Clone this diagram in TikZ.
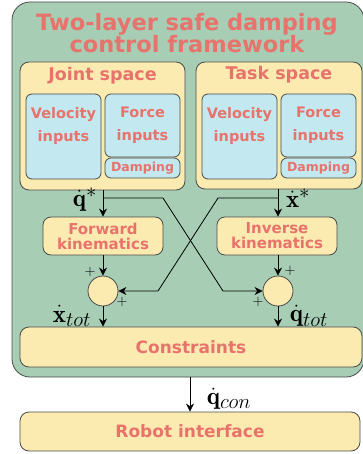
\documentclass[tikz,border=0pt]{standalone}
\usepackage{amsmath,amssymb}
\usepackage{fontspec}
\newfontfamily\djsans{DejaVu Sans}
\usepackage{xcolor}
\usepackage{tikz}
\usetikzlibrary{arrows.meta, positioning, calc}
\definecolor{frameG}{HTML}{A7CDB4}
\definecolor{boxY}{HTML}{FBEBB0}
\definecolor{boxB}{HTML}{C3E8EF}
\definecolor{txtR}{HTML}{E8736C}
\definecolor{edgeK}{HTML}{4A4A4A}
\tikzset{
  frame/.style  = {rectangle, draw=edgeK, fill=frameG, line width=0.8pt, rounded corners=18pt},
  space/.style  = {rectangle, draw=edgeK, fill=boxY, line width=0.8pt, rounded corners=9pt},
  inbox/.style  = {rectangle, draw=edgeK, fill=boxB, line width=0.8pt, rounded corners=6pt,
                   minimum width=75pt, inner sep=0pt, align=center, text=txtR,
                   font=\djsans\bfseries\fontsize{14.5}{23}\selectfont},
  kin/.style    = {rectangle, draw=edgeK, fill=boxY, line width=0.8pt, rounded corners=8pt,
                   minimum width=120pt, minimum height=38pt, inner sep=0pt, align=center,
                   text=txtR, font=\djsans\bfseries\fontsize{15}{15}\selectfont},
  wide/.style   = {rectangle, draw=edgeK, fill=boxY, line width=0.8pt, rounded corners=9pt,
                   inner sep=0pt, text=txtR, font=\djsans\bfseries\fontsize{17}{17}\selectfont},
  sum/.style    = {circle, draw=edgeK, fill=boxY, line width=0.8pt, minimum size=30pt, inner sep=0pt},
  head/.style   = {text=txtR, inner sep=0pt, font=\djsans\bfseries\fontsize{17.5}{18}\selectfont},
  lbl/.style    = {text=txtR, inner sep=0pt, align=center, font=\djsans\bfseries\fontsize{14.5}{23}\selectfont},
  sig/.style    = {inner sep=0pt, font=\Huge},
  pm/.style     = {inner sep=0pt, font=\Large},
  arrow/.style  = {line width=0.8pt, -{Stealth[length=8pt,width=8pt]}},
}
\begin{document}
\begin{tikzpicture}[x=1pt, y=-1pt]
    \useasboundingbox (0,0) rectangle (363,454);

    %% Outer frame
    \node[frame, minimum width=352pt, minimum height=375pt] (frame) at (188,189.5) {};
    \node[head, align=center, font=\djsans\bfseries\fontsize{22.5}{22}\selectfont] (title) at (187,33)
         {Two-layer safe damping\\control framework};

    %% Joint and task space
    \node[space, minimum width=165pt, minimum height=128pt] (joint) at (102.5,126) {};
    \node[space, minimum width=166pt, minimum height=127pt] (task)  at (279,125.5) {};
    \node[head] (jointT) at (102.5,76) {Joint space};
    \node[head] (taskT)  at (279,75)   {Task space};

    \node[inbox, minimum height=85pt] (velJ) at (63.5,136.5) {};
    \node[lbl] (velJT) at (63.5,126) {Velocity\\inputs};
    \node[inbox, minimum height=63pt] (forJ) at (142.5,125.5) {Force\\inputs};
    \node[inbox, minimum height=20pt, font=\djsans\bfseries\fontsize{12.5}{13}\selectfont] (dmpJ) at (142.5,168) {Damping};

    \node[inbox, minimum height=85pt] (velT) at (239.5,136.5) {};
    \node[lbl] (velTT) at (239.5,126) {Velocity\\inputs};
    \node[inbox, minimum height=63pt] (forT) at (318.5,125.5) {Force\\inputs};
    \node[inbox, minimum height=20pt, font=\djsans\bfseries\fontsize{12.5}{13}\selectfont] (dmpT) at (318.5,168) {Damping};

    %% Kinematics and sums
    \node[kin] (fk) at (103,236) {Forward\\kinematics};
    \node[kin] (ik) at (277,236) {Inverse\\kinematics};
    \node[sum] (sumJ) at (103,291) {};
    \node[sum] (sumT) at (278,291) {};

    \node[wide, minimum width=342pt, minimum height=40pt] (cons)  at (191,347)   {Constraints};
    \node[wide, minimum width=340pt, minimum height=39pt] (robot) at (190,431.5) {Robot interface};

    %% Connectors
    \coordinate (qsplit) at (103,198);
    \coordinate (xsplit) at (278,198);
    \coordinate (qa) at (163,198);
    \coordinate (qb) at (223,291);
    \coordinate (xa) at (218,198);
    \coordinate (xb) at (158,291);

    \draw[arrow] (joint.south -| fk.north) -- (fk.north);
    \draw[arrow] (task.south -| sumT.north) -- (ik.north -| sumT.north);
    \draw[arrow] (qsplit) -- (qa) -- (qb) -- (sumT.west);
    \draw[arrow] (xsplit) -- (xa) -- (xb) -- (sumJ.east);
    \draw[arrow] (fk.south) -- (sumJ.north);
    \draw[arrow] (ik.south -| sumT.north) -- (sumT.north);
    \draw[arrow] (sumJ.south) -- (sumJ.south |- cons.north);
    \draw[arrow] (sumT.south) -- (sumT.south |- cons.north);
    \draw[arrow] (robot.north |- frame.south) -- (robot.north);

    %% Signal labels
    \node[sig] (qstar) at (85,200)  {$\dot{\mathbf{q}}^*$};
    \node[sig] (xstar) at (298,198) {$\dot{\mathbf{x}}^*$};
    \node[sig] (xtot)  at (72,316)  {$\dot{\mathbf{x}}_{tot}$};
    \node[sig] (qtot)  at (309,316) {$\dot{\mathbf{q}}_{tot}$};
    \node[sig] (qcon)  at (229,399) {$\dot{\mathbf{q}}_{con}$};

    \node[pm] (pJa) at (90,272)  {$+$};
    \node[pm] (pJb) at (122,302) {$+$};
    \node[pm] (pTa) at (290,271) {$+$};
    \node[pm] (pTb) at (258,302) {$+$};

  \end{tikzpicture}
\end{document}
